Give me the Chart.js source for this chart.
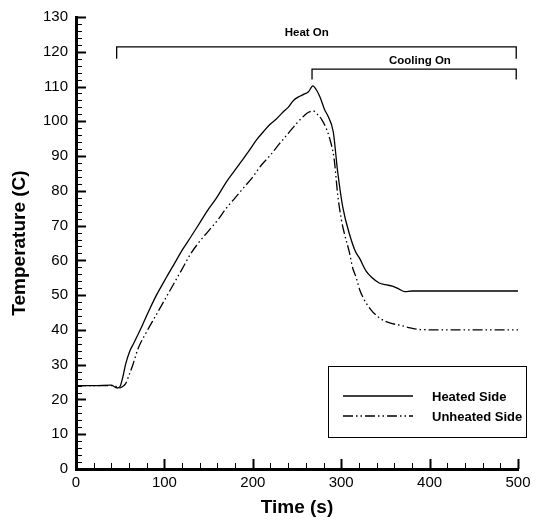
<!DOCTYPE html>
<html>
<head>
<meta charset="utf-8">
<script src="https://cdn.jsdelivr.net/npm/chart.js@4.4.1/dist/chart.umd.min.js"></script>
<style>
html,body{margin:0;padding:0;background:#fff;}
#wrap{width:537px;height:525px;position:relative;}
</style>
</head>
<body>
<div id="wrap"><canvas id="c" width="537" height="525"></canvas></div>
<script>
// ---- data ----
const heatedTime = [0,20,40,44,47,50,53,56,61,65,70,75,83,90,102,110,121,130,140,150,159,170,180,190,197,204,212,219,226,234,240,246,253,258,263,268,272,276,281,285,291,296,302,310,316,321,328,335,343,350,358,365,372,380,420,460,500];
const heatedTemp = [24,24,24.1,23.6,23.3,23.8,26.5,30,34,36,38.6,41.3,45.8,49.5,55,58.5,63.3,66.8,70.8,74.8,78,82.5,86,89.5,92,94.6,97,99,100.5,102.6,104,106,107.2,107.8,108.5,110.2,109,107,103.5,101.5,97,85.5,75,67,62.6,60.5,57,55,53.5,53,52.6,51.8,51,51.2,51.2,51.2,51.2];

const unheatedTime = [0,20,40,45,49,52,56,60,65,70,80,90,100,110,120,130,140,150,160,170,180,190,200,210,220,230,240,250,258,263,268,273,278,283,287,292,296,300,304,309,313,317,321,325,333,343,355,366,378,390,420,460,500];
const unheatedTemp = [24,24,24,23.8,23.3,23.6,24.5,27,30.5,34.5,39.5,44,48.5,53,57.5,62,65.5,68.5,71.5,75,78,81,84,87.5,90.3,93.5,96.5,99.5,101.6,102.6,103,102,100.5,98,95,89.2,79,72,67.3,62.6,57.8,55,51.5,49.2,46,43.5,42,41.4,40.6,40.1,40,40,40];

const heatOnTime = [46,46,498,498];
const heatOnTemp = [118,121.4,121.4,118];
const coolingOnTime = [267,267,498,498];
const coolingOnTemp = [112,115,115,112];

const labelTexts = ["Heat On","Cooling On"];
const labelTime = [261,389];
const labelTemp = [125.4,117.4];

const seriesNames = ["Heated Side","Unheated Side"];
const xTickValues = [0,100,200,300,400,500];
const yTickValues = [0,10,20,30,40,50,60,70,80,90,100,110,120,130];

const zip = (xs, ys) => xs.map((x,i)=>({x:x,y:ys[i]}));
const FONT = "'Liberation Sans', Arial, Helvetica, sans-serif";
const DASHDOT = [10,3,1.5,3,1.5,3];

const tickPlugin = {
  id:'inwardTicks',
  afterDraw(chart){
    const ctx = chart.ctx, xs = chart.scales.x, ys = chart.scales.y;
    const L = chart.chartArea.left, B = chart.chartArea.bottom;
    ctx.save();
    ctx.strokeStyle = '#000';
    for (let v = 0; v <= 130; v += 2) {
      const p = Math.round(ys.getPixelForValue(v)) + 0.5;
      const major = v % 10 === 0;
      ctx.lineWidth = major ? 2 : 1;
      ctx.beginPath(); ctx.moveTo(L, p); ctx.lineTo(L + (major ? 10 : 6), p); ctx.stroke();
    }
    for (let v = 0; v <= 500; v += 20) {
      const p = Math.round(xs.getPixelForValue(v)) + 0.5;
      const major = v % 100 === 0;
      ctx.lineWidth = major ? 2 : 1;
      ctx.beginPath(); ctx.moveTo(p, B); ctx.lineTo(p, B - (major ? 10 : 6)); ctx.stroke();
    }
    ctx.fillStyle = '#000';
    ctx.font = "bold 11.5px " + FONT;
    ctx.textAlign = 'center'; ctx.textBaseline = 'middle';
    labelTexts.forEach((t,i)=>{
      ctx.fillText(t, xs.getPixelForValue(labelTime[i]), ys.getPixelForValue(labelTemp[i]));
    });
    // legend box
    const bx = 328, by = 366, bw = 198, bh = 71;
    ctx.lineWidth = 1;
    ctx.strokeRect(bx + 0.5, by + 0.5, bw, bh);
    ctx.font = "bold 13px " + FONT;
    ctx.textAlign = 'left';
    const rows = [396, 416];
    [0,1].forEach(i=>{
      const ds = chart.data.datasets[i];
      ctx.setLineDash(ds.borderDash || []);
      ctx.lineWidth = ds.borderWidth;
      ctx.beginPath(); ctx.moveTo(343, rows[i]); ctx.lineTo(413, rows[i]); ctx.stroke();
      ctx.setLineDash([]);
      ctx.fillText(ds.label, 432, rows[i] + 1);
    });
    ctx.restore();
  }
};

new Chart(document.getElementById('c'), {
  type:'line',
  data:{
    datasets:[
      {label:seriesNames[0], data:zip(heatedTime,heatedTemp), borderColor:'#000', borderWidth:1.3, pointRadius:0, cubicInterpolationMode:'monotone', fill:false},
      {label:seriesNames[1], data:zip(unheatedTime,unheatedTemp), borderColor:'#000', borderWidth:1.3, borderDash:DASHDOT, pointRadius:0, cubicInterpolationMode:'monotone', fill:false},
      {label:'heatOn', data:zip(heatOnTime,heatOnTemp), borderColor:'#000', borderWidth:1.3, pointRadius:0, tension:0, fill:false},
      {label:'coolingOn', data:zip(coolingOnTime,coolingOnTemp), borderColor:'#000', borderWidth:1.3, pointRadius:0, tension:0, fill:false}
    ]
  },
  options:{
    responsive:false, animation:false,
    layout:{padding:{top:14,right:19,left:0,bottom:0}},
    plugins:{legend:{display:false}, tooltip:{enabled:false}},
    scales:{
      x:{type:'linear', min:0, max:500,
        afterBuildTicks(s){ s.ticks = xTickValues.map(v=>({value:v})); },
        afterFit(s){ s.height = 56; },
        grid:{display:false, drawTicks:false},
        border:{display:true, color:'#000', width:3},
        ticks:{color:'#000', font:{family:FONT, size:15}, padding:5, maxRotation:0},
        title:{display:true, text:'Time (s)', color:'#000', font:{family:FONT, size:19, weight:'bold'}, padding:{top:0,bottom:6}}
      },
      y:{type:'linear', min:0, max:130,
        afterBuildTicks(s){ s.ticks = yTickValues.map(v=>({value:v})); },
        afterFit(s){ s.width = 76; },
        grid:{display:false, drawTicks:false},
        border:{display:true, color:'#000', width:3},
        ticks:{color:'#000', font:{family:FONT, size:15}, padding:8},
        title:{display:true, text:'Temperature (C)', color:'#000', font:{family:FONT, size:19, weight:'bold'}, padding:{top:8,bottom:0}}
      }
    }
  },
  plugins:[tickPlugin]
});
</script>
</body>
</html>
